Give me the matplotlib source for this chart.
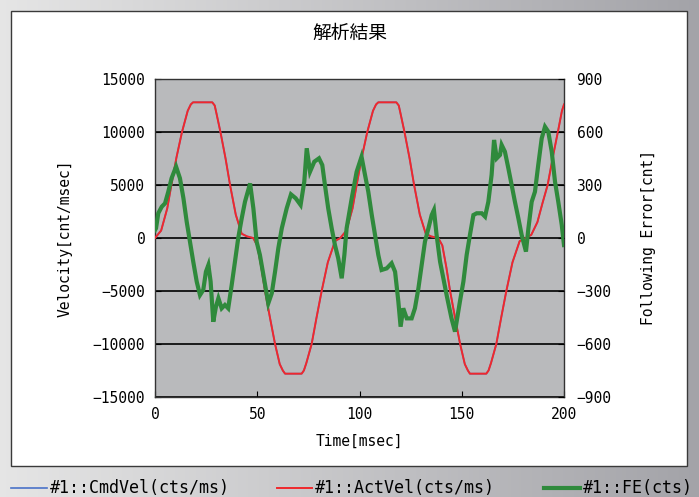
import numpy as np
import matplotlib
matplotlib.use("Agg")
import matplotlib.pyplot as plt
from matplotlib.patches import Rectangle
from matplotlib.lines import Line2D

# ---- data ---------------------------------------------------------------
vel_t = [0, 3, 6, 8, 10.5, 13.2, 16, 17.5, 18.6, 28, 29.2, 30, 32, 34.5, 36.7,
         39.5, 42.4, 45, 48, 50, 52, 53.8, 56.3, 58.7, 61, 62.5, 63.6, 71.7,
         72.8, 74, 76.6, 79, 81.5, 84.5, 88, 90.6, 93.6, 96.6, 98.6, 101.1,
         103.8, 106.6, 108.1, 109.2, 118, 119.2, 120, 122, 124.5, 126.7, 129.5,
         132.4, 135, 138.5, 140.5, 142.5, 144.3, 146.8, 149.2, 151.5, 153, 154,
         162, 163.1, 164.3, 166.9, 169.3, 171.8, 174.8, 178.3, 181.3, 184, 187,
         189.5, 192, 194.5, 197, 199, 200]
cmd_vel = [0, 700, 2800, 5000, 7600, 10000, 12000, 12600, 12800, 12800, 12500,
           11800, 10000, 7500, 5000, 2200, 400, 150, 0, -700, -2800, -5000,
           -7600, -10000, -11900, -12500, -12800, -12800, -12500, -11800,
           -10000, -7500, -5000, -2300, -300, 0, 700, 2800, 5000, 7600, 10000,
           12000, 12600, 12800, 12800, 12500, 11800, 10000, 7500, 5000, 2200,
           400, 150, 0, -700, -2800, -5000, -7600, -10000, -11900, -12500,
           -12800, -12800, -12500, -11800, -10000, -7500, -5000, -2300, -300,
           0, 300, 1500, 3300, 5000, 7600, 10000, 12000, 12600]
act_vel = list(cmd_vel)

fe_t = [0, 0.5, 1.6, 3.3, 4.9, 6.5, 8.1, 10.3, 12.2, 13.9, 15.5, 17.1, 18.7,
        20.4, 22, 23.6, 24.9, 26.1, 27.2, 28.5, 29.8, 31, 32.6, 34.2, 35.8,
        37.5, 39.1, 40.7, 42.4, 44, 46.5, 48.1, 49.7, 51.3, 53, 55.4, 57.1,
        58.7, 60.3, 62, 64.4, 66.5, 68.8, 71.2, 73, 74.2, 75.8, 77.9, 80.2,
        81.8, 83.1, 84.7, 86.4, 88, 89.6, 91.3, 92.6, 93.7, 96.2, 98.6, 101,
        102.7, 104.3, 106, 107.6, 109.2, 110.8, 113.3, 115.7, 117.4, 119, 120.1,
        121.4, 123.1, 125.5, 127.1, 128.8, 130.4, 132, 133.7, 135.3, 136.4,
        137.7, 139.4, 141, 142.6, 145, 146.7, 149.1, 150.8, 152.4, 154, 155.7,
        157.3, 159.8, 161.4, 163, 164.6, 165.8, 167.1, 168.7, 169.5, 171.1,
        172.8, 174.4, 176, 177.7, 179.3, 181.4, 182.6, 184.2, 185.8, 187.4,
        189.1, 190.7, 192.3, 194, 195.6, 197.2, 198.9, 200]
fe = [45, 55, 140, 177, 196, 262, 338, 404, 338, 225, 92, -21, -134, -247,
      -323, -294, -191, -153, -247, -474, -389, -341, -398, -379, -398, -266,
      -134, 0, 111, 205, 309, 168, -21, -96, -209, -370, -313, -191, -58, 55,
      168, 247, 225, 187, 319, 508, 375, 432, 451, 413, 300, 168, 55, -40,
      -115, -228, -96, 55, 225, 375, 460, 357, 262, 130, 17, -96, -181, -172,
      -143, -191, -360, -502, -398, -455, -455, -398, -285, -153, -21, 55,
      130, 158, 17, -134, -228, -323, -455, -530, -360, -247, -96, 17, 130,
      140, 140, 121, 205, 357, 555, 451, 470, 527, 489, 394, 300, 205, 111, 17,
      -77, 55, 205, 262, 413, 564, 630, 602, 489, 319, 205, 74, -40]

x_ticks = [0, 50, 100, 150, 200]
vel_ticks = [-15000, -10000, -5000, 0, 5000, 10000, 15000]
fe_ticks = [-900, -600, -300, 0, 300, 600, 900]

title = "解析結果"
labels = ["#1::CmdVel(cts/ms)", "#1::ActVel(cts/ms)", "#1::FE(cts)"]
colors = ["#4a72c8", "#f0282c", "#2f8a3c"]
widths = [1.2, 1.4, 3.0]

# ---- fonts --------------------------------------------------------------
plt.rcParams["font.family"] = ["DejaVu Sans Mono", "Noto Sans CJK JP"]
plt.rcParams["axes.unicode_minus"] = True

W, H = 699, 497
fig = plt.figure(figsize=(W / 100, H / 100), dpi=100)

# gradient backdrop
bg = fig.add_axes([0, 0, 1, 1], zorder=-10)
grad = np.linspace(0, 1, 256)[None, :]
lo, hi = np.array([0.90, 0.90, 0.90]), np.array([0.64, 0.64, 0.66])
img = lo[None, None, :] * (1 - grad[..., None]) + hi[None, None, :] * grad[..., None]
bg.imshow(img, aspect="auto", extent=[0, 1, 0, 1])
bg.set_axis_off()

# white chart panel
fig.add_artist(Rectangle((11 / W, 1 - 466 / H), (687 - 11) / W, (466 - 11) / H,
                         transform=fig.transFigure, facecolor="white",
                         edgecolor="#3a3a3a", linewidth=1.0, zorder=-5))

ax = fig.add_axes([155 / W, 1 - 397 / H, (564 - 155) / W, (397 - 79) / H], zorder=0)
ax.set_facecolor("#b9babc")
ax.plot(vel_t, cmd_vel, color=colors[0], lw=widths[0], zorder=3)
ax.plot(vel_t, act_vel, color=colors[1], lw=widths[1], zorder=4)
ax.set_xlim(0, 200)
ax.set_ylim(-15000, 15000)
ax.set_xticks(x_ticks)
ax.set_yticks(vel_ticks)
ax.yaxis.grid(True, color="black", lw=1.2)
ax.set_axisbelow(True)
ax.tick_params(direction="in", length=4, labelsize=10.5, pad=7, colors="black")
for s in ax.spines.values():
    s.set_color("#333333")
    s.set_linewidth(1.0)
ax.set_xlabel("Time[msec]", fontsize=10.5, va="center")
ax.xaxis.set_label_coords(0.5, (397 - 441) / 318)
ax.set_ylabel("Velocity[cnt/msec]", fontsize=10.5, va="center")
ax.yaxis.set_label_coords((65 - 155) / 409, 0.5)

ax2 = ax.twinx()
ax2.set_zorder(1)
ax2.plot(fe_t, fe, color=colors[2], lw=widths[2], solid_joinstyle="miter")
ax2.set_ylim(-900, 900)
ax2.set_yticks(fe_ticks)
ax2.tick_params(direction="in", length=4, labelsize=10.5, pad=9)
for s in ax2.spines.values():
    s.set_visible(False)
ax2.set_ylabel("Following Error[cnt]", fontsize=10.5, va="center")
ax2.yaxis.set_label_coords((648 - 155) / 409, 0.5)

fig.text(350 / W, 1 - 33 / H, title, ha="center", va="center", fontsize=13.5,
         family=["Noto Sans CJK JP"])

# legend strip below the panel
ly = 1 - 488 / H
for (x0, x1, tx), lab, col, lw in zip([(11, 47, 50), (277, 312, 315), (544, 580, 583)],
                                      labels, colors, widths):
    fig.add_artist(Line2D([x0 / W, x1 / W], [ly, ly], transform=fig.transFigure,
                          color=col, lw=lw))
    fig.text(tx / W, ly, lab, ha="left", va="center", fontsize=12)

fig.savefig("out.png", dpi=100)
